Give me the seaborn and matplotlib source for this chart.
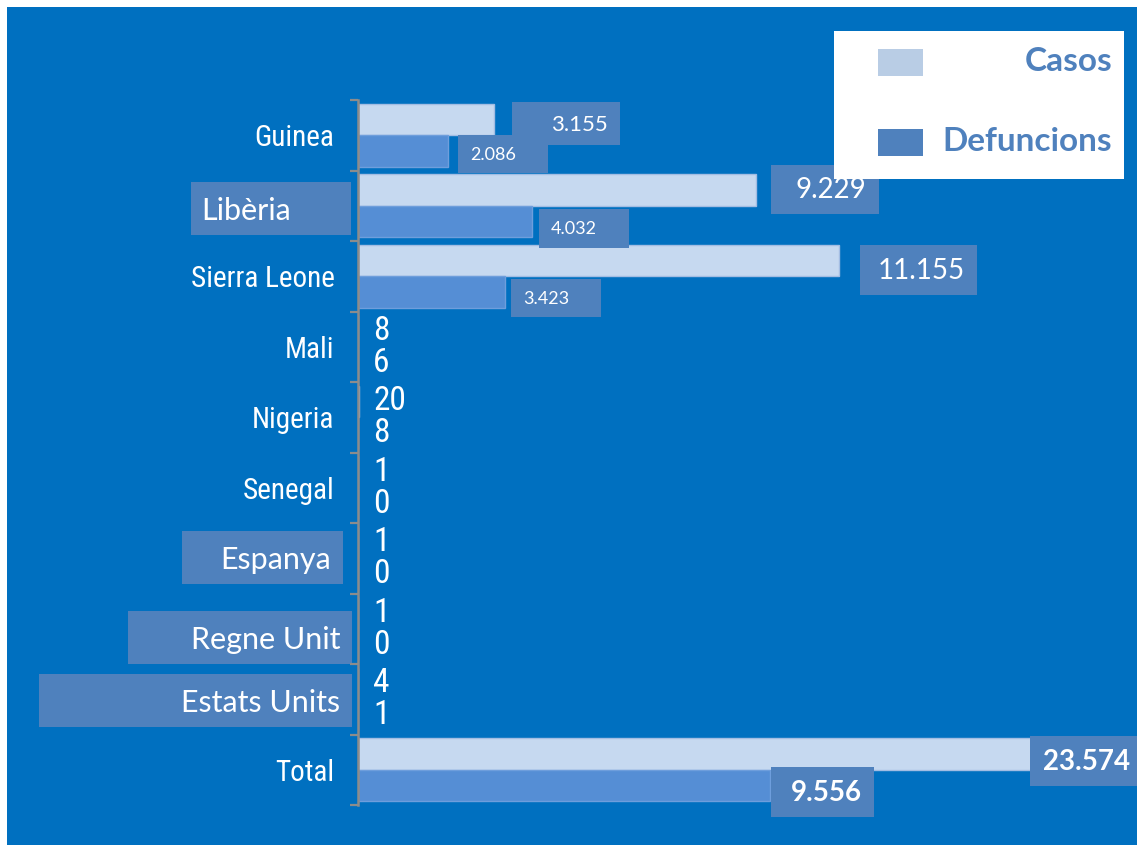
import matplotlib
matplotlib.use('Agg')
import matplotlib.pyplot as plt
import matplotlib.transforms as mtransforms
from matplotlib.patches import Rectangle
from matplotlib import font_manager
import seaborn as sns
import pandas as pd

# dades (casos i defuncions per pais)
paises = ['Guinea', 'Libèria', 'Sierra Leone', 'Mali', 'Nigeria', 'Senegal',
          'Espanya', 'Regne Unit', 'Estats Units', 'Total']
casos = [3155, 9229, 11155, 8, 20, 1, 1, 1, 4, 23574]
defuncions = [2086, 4032, 3423, 6, 8, 0, 0, 0, 1, 9556]
series = ['Casos', 'Defuncions']

df = pd.DataFrame({
    'pais': paises * 2,
    'serie': [series[0]] * len(paises) + [series[1]] * len(paises),
    'valor': casos + defuncions,
})

# colors
FONS = '#0070C0'
C_CASOS = '#C6D9F0'
C_DEF = '#558ED5'
CAIXA = '#4F81BD'
LLEG_CASOS = '#B9CDE5'
GRIS = '#8C8C8C'

# font estreta si n'hi ha, si no Roboto
noms = {f.name for f in font_manager.fontManager.ttflist}
estreta = next((n for n in ['Liberation Sans Narrow', 'DejaVu Sans Condensed',
                            'Roboto Condensed', 'Open Sans Condensed'] if n in noms), None)
if estreta:
    f_estreta, mida_cat, mida_petit = estreta, 21, 24
else:
    f_estreta, mida_cat, mida_petit = 'Roboto', 18, 18
f_normal = 'Lato'

sns.set_style('white')
plt.rcParams['font.family'] = [f_normal, 'DejaVu Sans']

W, H = 1137, 852
fig = plt.figure(figsize=(W / 100, H / 100), dpi=100)
fig.patch.set_facecolor('white')
fig.add_artist(Rectangle((7 / W, 7 / H), 1, 838 / H, transform=fig.transFigure,
                         facecolor=FONS, edgecolor='none', zorder=-1))

ax = fig.add_axes([358 / W, 1 - 805 / H, 672 / W, 705 / H])
ax.set_facecolor('none')

sns.barplot(data=df, x='valor', y='pais', hue='serie', orient='h',
            palette=[C_CASOS, C_DEF], width=0.9, saturation=1,
            legend=False, ax=ax)
for cont, ec in zip(ax.containers, ['#A3BDE3', '#6E9EDC']):
    for b in cont:
        b.set_edgecolor(ec)
        b.set_linewidth(1)

XMAX = 15600
ax.set_xlim(0, XMAX)
ax.set_ylim(len(paises) - 0.5, -0.5)
ax.set_xlabel('')
ax.set_ylabel('')
ax.set_xticks([])
for s in ['top', 'right', 'bottom']:
    ax.spines[s].set_visible(False)
ax.spines['left'].set_color(GRIS)
ax.spines['left'].set_linewidth(1.8)

ax.set_yticks(range(len(paises)))
ax.set_yticklabels(paises)
ax.set_yticks([i - 0.5 for i in range(len(paises) + 1)], minor=True)
ax.tick_params(axis='y', which='major', left=False, length=0, pad=17)
ax.tick_params(axis='y', which='minor', left=True, length=6, width=1.6, color=GRIS)

# etiquetes de categoria amb caixa: (x0, x1 en px respecte a l'eix, y0, y1 respecte al centre, dx text)
caixes_cat = {
    'Libèria': (-167, -7, -0.33, 0.42, -43),
    'Espanya': (-176, -15, -0.39, 0.36, -3),
    'Regne Unit': (-230, -6, -0.25, 0.50, 6),
    'Estats Units': (-319, -6, -0.36, 0.40, 6),
}
ytrans = ax.get_yaxis_transform()
for i, lab in enumerate(ax.get_yticklabels()):
    nom = lab.get_text()
    lab.set_color('white')
    if nom in caixes_cat:
        x0, x1, y0, y1, dx = caixes_cat[nom]
        lab.set_fontfamily(f_normal)
        lab.set_fontsize(22)
        dy = -(y0 + y1) / 2 * 70.5
        lab.set_transform(lab.get_transform() +
                          mtransforms.ScaledTranslation(dx / 100, dy / 100, fig.dpi_scale_trans))
        ax.add_patch(Rectangle((x0 / 672, i + y0), (x1 - x0) / 672, y1 - y0,
                               transform=ytrans, facecolor=CAIXA, edgecolor='none',
                               clip_on=False, zorder=0))
    else:
        lab.set_fontfamily(f_estreta)
        lab.set_fontsize(mida_cat)

# etiquetes de valor amb caixa: (x0, x1, dalt, baix) en px respecte al final de la barra
caixes_val = {
    ('Guinea', 'Casos'): (18, 126, -17, 26, 16, 'normal', 'right'),
    ('Guinea', 'Defuncions'): (10, 100, -16, 22, 13, 'normal', 'left'),
    ('Libèria', 'Casos'): (15, 123, -25, 24, 20, 'normal', 'right'),
    ('Libèria', 'Defuncions'): (7, 97, -13, 26, 13, 'normal', 'left'),
    ('Sierra Leone', 'Casos'): (21, 138, -15, 35, 20, 'normal', 'right'),
    ('Sierra Leone', 'Defuncions'): (6, 96, -13, 25, 13, 'normal', 'left'),
    ('Total', 'Casos'): (0, 112, -18, 32, 20, 'bold', 'right'),
    ('Total', 'Defuncions'): (1, 104, -19, 31, 20, 'bold', 'right'),
}


def fmt(v):
    return f'{v:,}'.replace(',', '.')


for serie, vals, cont in zip(series, [casos, defuncions], ax.containers):
    for pais, v, bar in zip(paises, vals, cont):
        x = min(v, XMAX)
        y = bar.get_y() + bar.get_height() / 2
        if (pais, serie) in caixes_val:
            x0, x1, t, b, mida, pes, ha = caixes_val[(pais, serie)]
            base = mtransforms.ScaledTranslation(x, y, ax.transData)
            ax.add_patch(Rectangle((x0, -b), x1 - x0, b - t, transform=base,
                                   facecolor=CAIXA, edgecolor='none', clip_on=False, zorder=4))
            tx = x1 - 12 if ha == 'right' else x0 + 12
            ax.annotate(fmt(v), (x, y), xytext=(tx, -(t + b) / 2 - 1),
                        textcoords='offset pixels', ha=ha, va='center',
                        color='white', fontsize=mida, fontweight=pes,
                        family=f_normal, annotation_clip=False, zorder=5)
        else:
            ax.annotate(fmt(v), (x, y), xytext=(15, 0), textcoords='offset pixels',
                        ha='left', va='center', color='white', fontsize=mida_petit,
                        family=f_estreta, zorder=5)

# llegenda
fig.add_artist(Rectangle((834 / W, 1 - 179 / H), 290 / W, 148 / H, transform=fig.transFigure,
                         facecolor='white', edgecolor='none', zorder=6))
for nom, col, yc in zip(series, [LLEG_CASOS, CAIXA], [62.5, 142.5]):
    fig.add_artist(Rectangle((878 / W, 1 - (yc + 13.5) / H), 45 / W, 27 / H,
                             transform=fig.transFigure, facecolor=col,
                             edgecolor='none', zorder=7))
    fig.text(1112 / W, 1 - (yc - 1) / H, nom, ha='right', va='center', fontsize=24,
             fontweight='bold', color=CAIXA, family=f_normal, zorder=7)

fig.savefig('out.png', dpi=100)
